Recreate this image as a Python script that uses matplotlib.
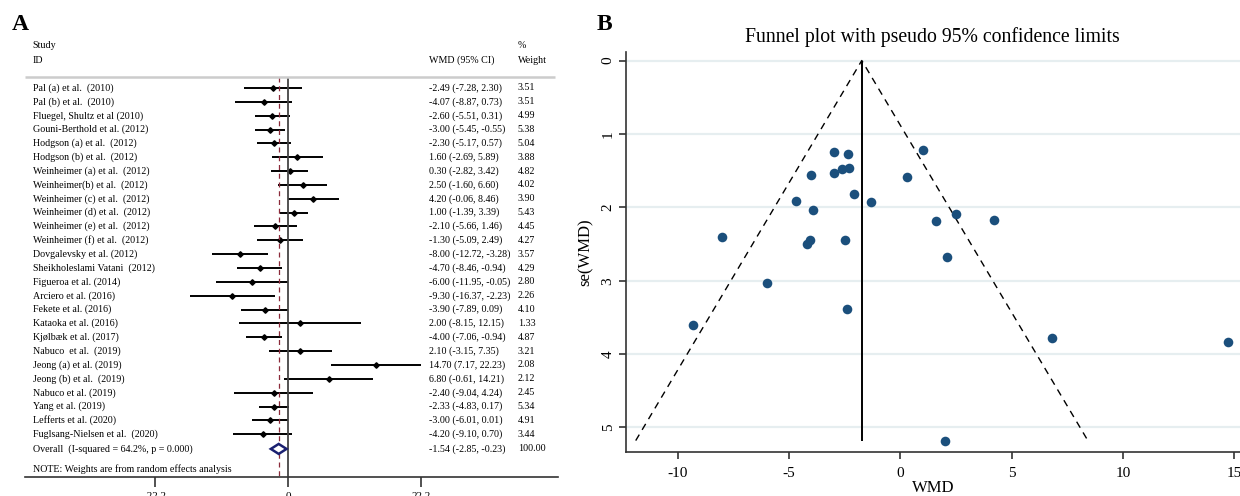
import numpy as np
import matplotlib
matplotlib.use("Agg")
import matplotlib.pyplot as plt

plt.rcParams["font.family"] = ["Liberation Serif", "DejaVu Serif"]
plt.rcParams["axes.unicode_minus"] = False

# forest plot data
studies = [
    "Pal (a) et al.  (2010)", "Pal (b) et al.  (2010)", "Fluegel, Shultz et al (2010)",
    "Gouni-Berthold et al. (2012)", "Hodgson (a) et al.  (2012)", "Hodgson (b) et al.  (2012)",
    "Weinheimer (a) et al.  (2012)", "Weinheimer(b) et al.  (2012)", "Weinheimer (c) et al.  (2012)",
    "Weinheimer (d) et al.  (2012)", "Weinheimer (e) et al.  (2012)", "Weinheimer (f) et al.  (2012)",
    "Dovgalevsky et al. (2012)", "Sheikholeslami Vatani  (2012)", "Figueroa et al. (2014)",
    "Arciero et al. (2016)", "Fekete et al. (2016)", "Kataoka et al. (2016)",
    "Kjølbæk et al. (2017)", "Nabuco  et al.  (2019)", "Jeong (a) et al. (2019)",
    "Jeong (b) et al.  (2019)", "Nabuco et al. (2019)", "Yang et al. (2019)",
    "Lefferts et al. (2020)", "Fuglsang-Nielsen et al.  (2020)",
]
wmd = [-2.49, -4.07, -2.60, -3.00, -2.30, 1.60, 0.30, 2.50, 4.20, 1.00, -2.10, -1.30,
       -8.00, -4.70, -6.00, -9.30, -3.90, 2.00, -4.00, 2.10, 14.70, 6.80, -2.40, -2.33,
       -3.00, -4.20]
ci_low = [-7.28, -8.87, -5.51, -5.45, -5.17, -2.69, -2.82, -1.60, -0.06, -1.39, -5.66, -5.09,
          -12.72, -8.46, -11.95, -16.37, -7.89, -8.15, -7.06, -3.15, 7.17, -0.61, -9.04, -4.83,
          -6.01, -9.10]
ci_high = [2.30, 0.73, 0.31, -0.55, 0.57, 5.89, 3.42, 6.60, 8.46, 3.39, 1.46, 2.49,
           -3.28, -0.94, -0.05, -2.23, 0.09, 12.15, -0.94, 7.35, 22.23, 14.21, 4.24, 0.17,
           0.01, 0.70]
weights = [3.51, 3.51, 4.99, 5.38, 5.04, 3.88, 4.82, 4.02, 3.90, 5.43, 4.45, 4.27,
           3.57, 4.29, 2.80, 2.26, 4.10, 1.33, 4.87, 3.21, 2.08, 2.12, 2.45, 5.34,
           4.91, 3.44]
overall = (-1.54, -2.85, -0.23)
overall_label = "Overall  (I-squared = 64.2%, p = 0.000)"
forest_ticks = [-22.2, 0, 22.2]

# funnel plot
fixed_wmd = -1.73
funnel_xticks = [-10, -5, 0, 5, 10, 15]
funnel_yticks = [0, 1, 2, 3, 4, 5]

W, H = 1240, 496
fig = plt.figure(figsize=(W / 100, H / 100), dpi=100)

# ---------- panel A ----------
ax1 = fig.add_axes([25 / W, (H - 476.7) / H, (558 - 25) / W, 476.7 / H])
n = len(studies)
rows = np.arange(n)
ax1.set_xlim(-43.9, 45.1)
ax1.set_ylim((476.7 - 88) / 13.85, -88 / 13.85)

fs = 7.2
ax1.hlines(rows, ci_low, ci_high, color="black", lw=1.4)
ax1.plot(wmd, rows, "D", color="black", ms=2.8)

y_over = n + 0.06
est, lo, hi = overall
ax1.fill([lo, est, hi, est, lo], [y_over, y_over - 0.36, y_over, y_over + 0.36, y_over],
         facecolor="white", edgecolor="#1a2070", lw=1.8, zorder=4)

ytop = -0.77
ybot = ax1.get_ylim()[0]
ax1.vlines(0, ytop, ybot, color="#444444", lw=1.3)
ax1.vlines(est, ytop, ybot, color="#8b2a3a", lw=0.9, linestyles=(0, (4, 3)))
ax1.hlines(ytop, -43.9, 44.6, color="#cccccc", lw=1.8)

x_lab, x_ci, x_w = -42.6, 23.5, 38.4
for i in range(n):
    ax1.text(x_lab, i, studies[i], fontsize=fs, va="center", ha="left")
    ax1.text(x_ci, i, f"{wmd[i]:.2f} ({ci_low[i]:.2f}, {ci_high[i]:.2f})", fontsize=fs,
             va="center", ha="left")
    ax1.text(x_w, i, f"{weights[i]:.2f}", fontsize=fs, va="center", ha="left")
ax1.text(x_lab, y_over, overall_label, fontsize=fs, va="center")
ax1.text(x_ci, y_over, f"{est:.2f} ({lo:.2f}, {hi:.2f})", fontsize=fs, va="center")
ax1.text(x_w, y_over, "100.00", fontsize=fs, va="center")
ax1.text(x_lab, n + 1.53, "NOTE: Weights are from random effects analysis", fontsize=fs, va="center")

ax1.text(x_lab, -3.1, "Study", fontsize=fs, va="center")
ax1.text(x_lab, -2.0, "ID", fontsize=fs, va="center")
ax1.text(x_ci, -2.0, "WMD (95% CI)", fontsize=fs, va="center")
ax1.text(x_w, -3.1, "%", fontsize=fs, va="center")
ax1.text(x_w, -2.0, "Weight", fontsize=fs, va="center")

ax1.set_xticks(forest_ticks)
ax1.set_xticklabels([f"{t:g}" for t in forest_ticks])
ax1.set_yticks([])
for s in ["top", "right", "left"]:
    ax1.spines[s].set_visible(False)
ax1.spines["bottom"].set_color("#333333")
ax1.spines["bottom"].set_linewidth(1.2)
ax1.tick_params(axis="x", length=7, width=1.2, labelsize=8, pad=4, color="#333333")

fig.text(12 / W, 1 - 25 / H, "A", fontsize=17, fontweight="bold", va="center", ha="left")

# ---------- panel B ----------
se = (np.array(ci_high) - np.array(ci_low)) / 3.92
ax2 = fig.add_axes([625.7 / W, (H - 451.7) / H, (W - 625.7) / W, 400 / H])
ax2.set_xlim(-12.33, 15.25)
ax2.set_ylim(5.33, -0.12)
for t in funnel_yticks:
    ax2.axhline(t, color="#e6eef0", lw=1.6, zorder=0)
se_max = se.max()
ax2.plot([fixed_wmd - 1.96 * se_max, fixed_wmd, fixed_wmd + 1.96 * se_max],
         [se_max, 0, se_max], color="black", lw=1.0, ls=(0, (5, 4)))
ax2.vlines(fixed_wmd, 0, se_max, color="black", lw=1.4)
ax2.scatter(wmd, se, s=48, color="#1b4f7c", zorder=3, clip_on=False, linewidths=0)

ax2.set_xticks(funnel_xticks)
ax2.set_yticks(funnel_yticks)
ax2.set_yticklabels([str(t) for t in funnel_yticks], rotation=90, va="center")
for s in ["top", "right"]:
    ax2.spines[s].set_visible(False)
for s in ["left", "bottom"]:
    ax2.spines[s].set_color("#333333")
    ax2.spines[s].set_linewidth(1.2)
ax2.tick_params(length=5, width=1.2, labelsize=11, color="#333333")
ax2.tick_params(axis="x", pad=6)
ax2.tick_params(axis="y", pad=3)
ax2.set_xlabel("WMD", fontsize=12, labelpad=0)
ax2.set_ylabel("se(WMD)", fontsize=12, labelpad=6)
ax2.set_title("Funnel plot with pseudo 95% confidence limits", fontsize=14.2, pad=7)

fig.text(597 / W, 1 - 25 / H, "B", fontsize=17, fontweight="bold", va="center", ha="left")

fig.savefig("out.png", dpi=100)
